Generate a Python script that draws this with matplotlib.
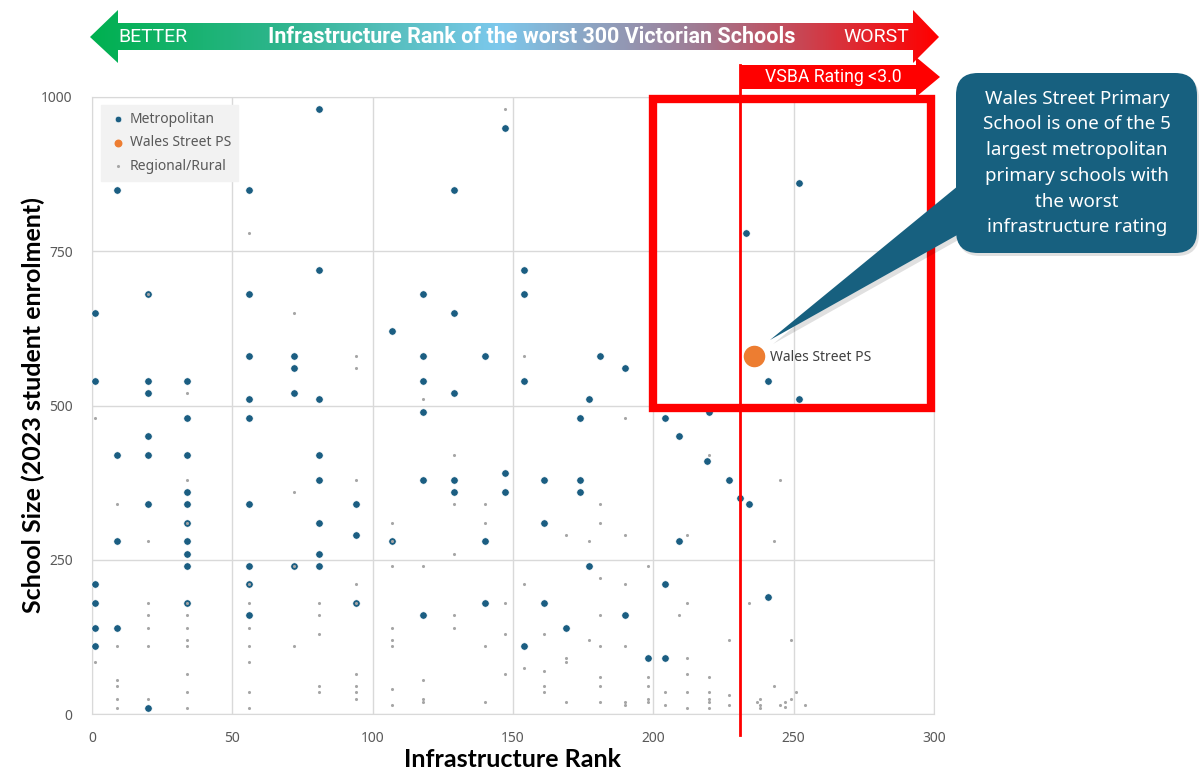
import numpy as np
import matplotlib
matplotlib.use("Agg")
import matplotlib.pyplot as plt
from matplotlib.patches import Polygon, FancyBboxPatch, Rectangle
from matplotlib.colors import LinearSegmentedColormap

plt.rcParams['font.family'] = ['Noto Sans', 'DejaVu Sans']

# metropolitan schools (rank, enrolment)
metro_rank = [1, 1, 1, 1, 1, 1,
              9, 9, 9, 9,
              20, 20, 20, 20, 20, 20, 20,
              34, 34, 34, 34, 34, 34, 34, 34, 34, 34,
              56, 56, 56, 56, 56, 56, 56, 56, 56,
              72, 72, 72, 72,
              81, 81, 81, 81, 81, 81, 81, 81,
              94, 94, 94,
              107, 107,
              118, 118, 118, 118, 118, 118,
              129, 129, 129, 129, 129,
              140, 140, 140,
              147, 147, 147,
              154, 154, 154, 154,
              161, 161, 161,
              169,
              174, 174, 174,
              177, 177,
              181,
              190, 190,
              198,
              204, 204, 204,
              209, 209,
              219, 220,
              227, 231, 233, 234,
              241, 241,
              252, 252]
metro_size = [650, 540, 210, 180, 140, 110,
              850, 420, 280, 140,
              680, 540, 520, 450, 420, 340, 10,
              540, 480, 420, 360, 340, 310, 280, 260, 240, 180,
              850, 680, 580, 510, 480, 340, 240, 210, 160,
              580, 560, 520, 240,
              980, 720, 510, 420, 380, 310, 260, 240,
              340, 290, 180,
              620, 280,
              680, 580, 540, 490, 380, 160,
              850, 650, 520, 380, 360,
              580, 280, 180,
              950, 390, 360,
              720, 680, 540, 110,
              380, 310, 180,
              140,
              480, 380, 360,
              510, 240,
              580,
              560, 160,
              90,
              480, 210, 90,
              450, 280,
              410, 490,
              380, 350, 780, 340,
              540, 190,
              860, 510]

# regional / rural schools
reg_rank = [1, 1,
            9, 9, 9, 9, 9, 9,
            20, 20, 20, 20, 20, 20, 20,
            34, 34, 34, 34, 34, 34, 34, 34, 34, 34, 34,
            56, 56, 56, 56, 56, 56, 56, 56,
            72, 72, 72, 72,
            81, 81, 81, 81, 81,
            94, 94, 94, 94, 94, 94, 94, 94, 94,
            107, 107, 107, 107, 107, 107, 107, 107,
            118, 118, 118, 118, 118,
            129, 129, 129, 129, 129,
            140, 140, 140, 140,
            147, 147, 147, 147,
            154, 154, 154,
            161, 161, 161, 161,
            169, 169, 169, 169,
            177, 177,
            181, 181, 181, 181, 181, 181, 181, 181,
            190, 190, 190, 190, 190, 190,
            198, 198, 198, 198, 198,
            204, 204,
            209,
            212, 212, 212, 212, 212, 212,
            220, 220, 220, 220, 220, 220,
            227, 227, 227,
            234, 237, 238, 238, 238,
            243, 243, 245, 245, 247, 247,
            249, 249, 251, 254]
reg_size = [480, 85,
            340, 110, 55, 45, 25, 10,
            680, 280, 180, 160, 140, 110, 25,
            520, 380, 310, 180, 160, 140, 120, 110, 65, 35, 10,
            780, 210, 180, 140, 110, 85, 35, 10,
            650, 360, 240, 110,
            180, 160, 130, 45, 35,
            580, 560, 380, 210, 180, 65, 45, 35, 25,
            310, 280, 240, 140, 120, 110, 40, 15,
            510, 240, 55, 25, 20,
            420, 340, 260, 160, 140,
            340, 310, 110, 20,
            980, 180, 130, 65,
            580, 210, 75,
            130, 70, 45, 35,
            290, 90, 85, 20,
            280, 120,
            340, 310, 220, 160, 110, 60, 45, 20,
            480, 290, 210, 110, 20, 15,
            240, 60, 45, 25, 20,
            35, 15,
            160,
            290, 180, 90, 65, 35, 10,
            420, 60, 35, 25, 20, 10,
            120, 30, 15,
            180, 20, 25, 15, 10,
            280, 45, 380, 15, 20, 12,
            120, 25, 35, 15]

wales_rank = [236]
wales_size = [580]

x_ticks = [0, 50, 100, 150, 200, 250, 300]
y_ticks = [0, 250, 500, 750, 1000]

VSBA_CUTOFF = 231
callout_text = ("Wales Street Primary\nSchool is one of the 5\nlargest metropolitan\n"
                "primary schools with\nthe worst\ninfrastructure rating")

METRO = '#1B5E82'
GREY = '#595959'

W, H = 1200, 772
fig = plt.figure(figsize=(W / 100, H / 100), dpi=100)
ax = fig.add_axes([92 / W, 1 - 714 / H, 842 / W, 617 / H])

ax.scatter(metro_rank, metro_size, s=28, color=METRO, edgecolors='white',
           linewidths=0.4, zorder=3, label='Metropolitan')
ax.scatter(wales_rank, wales_size, s=210, color='#ED7D31', zorder=4,
           label='Wales Street PS')
ax.scatter(reg_rank, reg_size, s=5, marker='o', color='#A6A6A6', linewidths=0,
           zorder=5, label='Regional/Rural')
ax.annotate('Wales Street PS', (wales_rank[0], wales_size[0]), xytext=(11, -1),
            textcoords='offset points', va='center', fontsize=10, color='#404040')

ax.set_xlim(0, 300)
ax.set_ylim(0, 1000)
ax.set_xticks(x_ticks)
ax.set_yticks(y_ticks)
ax.grid(True, color='#D9D9D9', lw=1)
ax.set_axisbelow(True)
for sp in ax.spines.values():
    sp.set_color('#D9D9D9')
ax.tick_params(length=0, labelsize=10, labelcolor=GREY)
ax.tick_params(axis='x', pad=12)
ax.tick_params(axis='y', pad=14)

ax.set_xlabel('Infrastructure Rank', fontsize=18, fontweight='bold',
              family=['Lato', 'DejaVu Sans'])
ax.xaxis.set_label_coords(0.5, -0.055)
ax.set_ylabel('School Size (2023 student enrolment)', fontsize=18, fontweight='bold',
              family=['Lato', 'DejaVu Sans'])
ax.yaxis.set_label_coords(-0.056, 0.5)

leg = ax.legend(loc='upper left', bbox_to_anchor=(0.002, 0.998), fontsize=10,
                labelcolor=GREY, facecolor='#F2F2F2', edgecolor='#F2F2F2',
                framealpha=1, fancybox=False, handletextpad=0.1, borderpad=0.5,
                labelspacing=0.6, handlelength=1.5)
leg.legend_handles[0].set_sizes([22])
leg.legend_handles[1].set_sizes([22])
leg.legend_handles[2].set_sizes([5])

# VSBA cut-off line and highlight box
ax.axvline(VSBA_CUTOFF, ymin=-0.034, ymax=1.052, color='red', lw=2, clip_on=False,
           zorder=6)
ax.add_patch(Rectangle((200, 496), 99, 501, fill=False, ec='red', lw=6,
                       clip_on=False, zorder=6))

# overlay in pixel coordinates for the arrows and callout
ov = fig.add_axes([0, 0, 1, 1], zorder=10)
ov.set_xlim(0, W)
ov.set_ylim(H, 0)
ov.axis('off')
ov.patch.set_alpha(0)

arrow_pts = [(90, 37), (118, 10), (118, 23), (913, 23), (913, 10), (939, 37),
             (913, 63), (913, 50), (118, 50), (118, 63)]
arrow = Polygon(arrow_pts, closed=True, fc='none', ec='none')
ov.add_patch(arrow)
grad_cmap = LinearSegmentedColormap.from_list('bw', [
    (0.0, '#00B050'), (0.22, '#2DB58C'), (0.48, '#7CC8EC'),
    (0.72, '#A07A92'), (1.0, '#FF0000')])
img = ov.imshow(np.linspace(0, 1, 300)[None, :], cmap=grad_cmap, aspect='auto',
                extent=(90, 939, 63, 10), zorder=1)
img.set_clip_path(arrow)
ov.set_xlim(0, W)
ov.set_ylim(H, 0)

arrow_font = ['Roboto', 'DejaVu Sans']
ov.text(153, 37, 'BETTER', color='white', fontsize=14, ha='center', va='center',
        family=arrow_font, zorder=2)
ov.text(532, 37, 'Infrastructure Rank of the worst 300 Victorian Schools',
        color='white', fontsize=15.5, fontweight='bold', ha='center', va='center',
        family=arrow_font, zorder=2)
ov.text(876, 37, 'WORST', color='white', fontsize=14, ha='center', va='center',
        family=arrow_font, zorder=2)

vsba_pts = [(740, 65), (916, 65), (916, 57), (940, 77), (916, 97), (916, 89), (740, 89)]
ov.add_patch(Polygon(vsba_pts, closed=True, fc='red', ec='none', zorder=1))
ov.text(833, 77, 'VSBA Rating <3.0', color='white', fontsize=12.7, ha='center',
        va='center', family=arrow_font, zorder=2)

# callout with pointer and soft shadow
wedge = [(770, 340), (975, 172), (975, 225)]
ov.add_patch(Polygon([(x + 3, y + 4) for x, y in wedge], closed=True, fc='#000000',
                     alpha=0.12, ec='none', zorder=1))
ov.add_patch(FancyBboxPatch((958, 76), 241, 180, boxstyle='round,pad=0,rounding_size=22',
                            fc='#000000', alpha=0.12, ec='none', zorder=1))
ov.add_patch(Polygon(wedge, closed=True, fc='#17607F', ec='none', zorder=2))
ov.add_patch(FancyBboxPatch((956, 73), 241, 180, boxstyle='round,pad=0,rounding_size=22',
                            fc='#17607F', ec='none', zorder=3))
ov.text(1077, 163, callout_text, color='white', fontsize=13.5, ha='center', va='center',
        linespacing=1.55, zorder=4)

fig.savefig('out.png', dpi=100)
